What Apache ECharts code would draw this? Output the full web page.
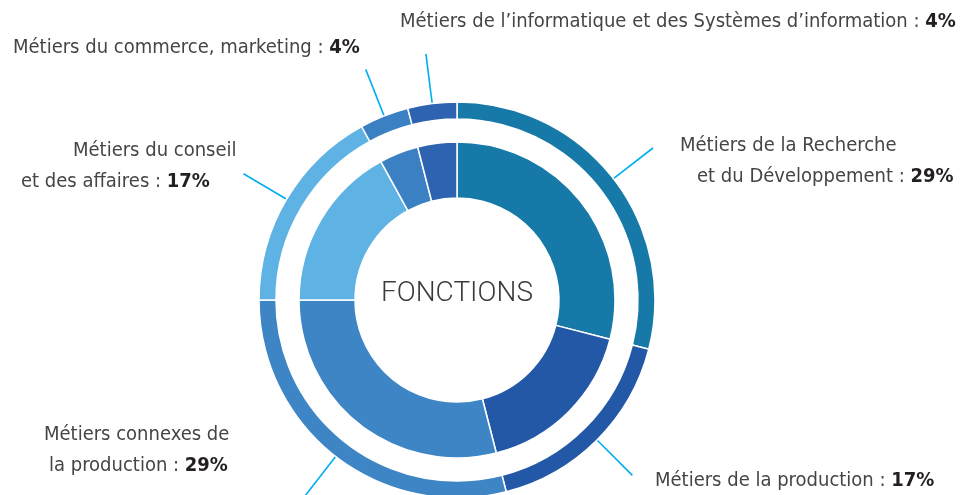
<!DOCTYPE html>
<html>
<head>
<meta charset="utf-8">
<script src="https://cdn.jsdelivr.net/npm/echarts@6/dist/echarts.min.js"></script>
<style>
  html, body { margin: 0; padding: 0; background: #fff; }
  #chart { width: 968px; height: 495px; }
</style>
</head>
<body>
<div id="chart"></div>
<script>
// data
var categories = [
  'Métiers de la Recherche et du Développement',
  'Métiers de la production',
  'Métiers connexes de la production',
  'Métiers du conseil et des affaires',
  'Métiers du commerce, marketing',
  'Métiers de l’informatique et des Systèmes d’information'
];
var shares = [29, 17, 29, 17, 4, 4];
// how each label is broken into lines in the picture
var labelLines = [
  ['Métiers de la Recherche', 'et du Développement : '],
  ['Métiers de la production : '],
  ['Métiers connexes de', 'la production : '],
  ['Métiers du conseil', 'et des affaires : '],
  ['Métiers du commerce, marketing : '],
  ['Métiers de l’informatique et des Systèmes d’information : ']
];

var colors = ['#1679a8', '#2358a6', '#3e85c5', '#5eb3e4', '#3b80c3', '#2d63b0'];

// label placement (left edge, vertical middle) and per-line indents
var labelPos = [
  { x: 680, y: 161, indent: [0, 17] },
  { x: 655, y: 481, indent: [0] },
  { x: 44, y: 450, indent: [0, 5] },
  { x: 21, y: 166, indent: [52, 0] },
  { x: 13, y: 48, indent: [0] },
  { x: 400, y: 22, indent: [0] }
];

var font = "'DejaVu Sans Condensed', 'Liberation Sans Narrow', sans-serif";
var fs = 20;

function labelText(i) {
  var lines = labelLines[i];
  var pos = labelPos[i];
  var out = [];
  for (var k = 0; k < lines.length; k++) {
    var s = '';
    if (pos.indent[k]) s += '{i' + pos.indent[k] + '| }';
    s += '{t|' + lines[k] + '}';
    if (k === lines.length - 1) s += '{p|' + shares[i] + '%}';
    out.push(s);
  }
  return out.join('\n');
}

var rich = {
  t: { fontFamily: font, fontSize: fs, color: '#454545', lineHeight: 31 },
  p: { fontFamily: font, fontSize: fs, fontWeight: 'bold', color: '#231f20', lineHeight: 31 }
};
labelPos.forEach(function (p) {
  p.indent.forEach(function (w) {
    if (w) rich['i' + w] = { width: w, fontSize: fs, lineHeight: 31 };
  });
});

var pieData = categories.map(function (c, i) {
  return { name: c, value: shares[i], itemStyle: { color: colors[i] } };
});

var chart = echarts.init(document.getElementById('chart'));
chart.setOption({
  animation: false,
  backgroundColor: '#fff',
  graphic: [{
    type: 'text',
    x: 457,
    y: 294,
    style: {
      text: 'FONCTIONS',
      fontFamily: "Roboto, 'Liberation Sans', sans-serif",
      fontWeight: 300,
      fontSize: 28,
      fill: '#3a3a3a',
      textAlign: 'center',
      textVerticalAlign: 'middle'
    }
  }],
  series: [
    {
      type: 'pie',
      center: [457, 300],
      radius: [102, 158],
      startAngle: 90,
      clockwise: true,
      silent: true,
      itemStyle: { borderColor: '#fff', borderWidth: 1.5 },
      label: { show: false },
      labelLine: { show: false },
      data: pieData
    },
    {
      type: 'pie',
      center: [457, 300],
      radius: [181, 198],
      startAngle: 90,
      clockwise: true,
      silent: true,
      avoidLabelOverlap: false,
      itemStyle: { borderColor: '#fff', borderWidth: 1.5 },
      label: {
        show: true,
        position: 'outside',
        formatter: function (p) { return labelText(p.dataIndex); },
        rich: rich
      },
      labelLine: {
        show: true,
        length: 50,
        length2: 0,
        lineStyle: { color: '#00aeef', width: 1.6 }
      },
      labelLayout: function (params) {
        var p = labelPos[params.dataIndex];
        return {
          x: p.x,
          y: p.y,
          align: 'left',
          verticalAlign: 'middle',
          labelLinePoints: params.labelLinePoints
        };
      },
      data: pieData
    }
  ]
});
</script>
</body>
</html>
